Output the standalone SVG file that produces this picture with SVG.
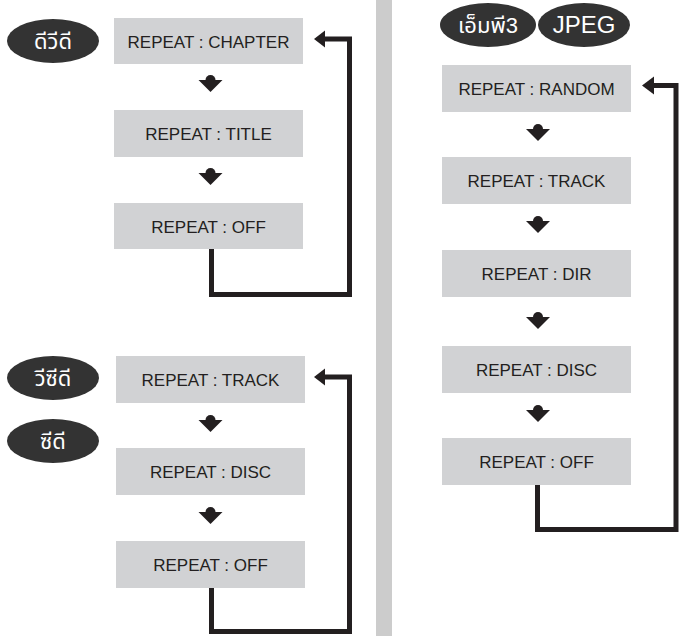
<svg xmlns="http://www.w3.org/2000/svg" xmlns:xlink="http://www.w3.org/1999/xlink" width="681" height="636" viewBox="0 0 681 636">
<defs>
<style>
.box{fill:#d1d2d4;}
.lbl{font-family:"Liberation Sans",Arial,sans-serif;font-size:17px;fill:#231f20;text-anchor:middle;}
.tag{fill:#333333;}
.tagt{font-family:"Liberation Sans","Noto Sans Thai","Noto Sans",sans-serif;font-size:22px;fill:#ffffff;text-anchor:middle;}
.loop{fill:none;stroke:#231f20;stroke-width:5;stroke-linejoin:miter;}
.head{fill:#231f20;}
</style>
<g id="down">
<circle cx="0" cy="0" r="5" fill="#231f20"/>
<path d="M-12,0 L12,0 L0,12 Z" fill="#231f20"/>
</g>
</defs>
<rect id="divider" x="376" y="0" width="16" height="636" fill="#cccccc"/>

<g id="tag-dvd"><ellipse class="tag" cx="53" cy="41" rx="46" ry="22"/><text class="tagt" x="53" y="49">ดีวีดี</text></g>
<g id="tag-vcd"><ellipse class="tag" cx="53" cy="378" rx="46" ry="22"/><text class="tagt" x="53" y="386">วีซีดี</text></g>
<g id="tag-cd"><ellipse class="tag" cx="53" cy="441" rx="46" ry="22"/><text class="tagt" x="53" y="449">ซีดี</text></g>
<g id="tag-mp3"><ellipse class="tag" cx="488" cy="25" rx="48" ry="22"/><text class="tagt" x="488" y="33">เอ็มพี3</text></g>
<g id="tag-jpeg"><ellipse class="tag" cx="584" cy="25" rx="46" ry="22"/><text class="tagt" x="584" y="33" style="font-size:24px">JPEG</text></g>

<g id="dvd-chapter"><rect class="box" x="114" y="18" width="189" height="46"/><text class="lbl" x="208.5" y="47.5">REPEAT : CHAPTER</text></g>
<g id="dvd-title"><rect class="box" x="114" y="110" width="189" height="47"/><text class="lbl" x="208.5" y="140">REPEAT : TITLE</text></g>
<g id="dvd-off"><rect class="box" x="114" y="203" width="189" height="46"/><text class="lbl" x="208.5" y="232.5">REPEAT : OFF</text></g>

<g id="cd-track"><rect class="box" x="116" y="356" width="189" height="47"/><text class="lbl" x="210.5" y="386">REPEAT : TRACK</text></g>
<g id="cd-disc"><rect class="box" x="116" y="448" width="189" height="47"/><text class="lbl" x="210.5" y="478">REPEAT : DISC</text></g>
<g id="cd-off"><rect class="box" x="116" y="541" width="189" height="47"/><text class="lbl" x="210.5" y="571">REPEAT : OFF</text></g>

<g id="mp3-random"><rect class="box" x="442" y="65" width="189" height="47"/><text class="lbl" x="536.5" y="95">REPEAT : RANDOM</text></g>
<g id="mp3-track"><rect class="box" x="442" y="157" width="189" height="47"/><text class="lbl" x="536.5" y="187">REPEAT : TRACK</text></g>
<g id="mp3-dir"><rect class="box" x="442" y="250" width="189" height="47"/><text class="lbl" x="536.5" y="280">REPEAT : DIR</text></g>
<g id="mp3-disc"><rect class="box" x="442" y="346" width="189" height="47"/><text class="lbl" x="536.5" y="376">REPEAT : DISC</text></g>
<g id="mp3-off"><rect class="box" x="442" y="438" width="189" height="47"/><text class="lbl" x="536.5" y="468">REPEAT : OFF</text></g>

<g id="connectors">
<use xlink:href="#down" x="210.5" y="80"/>
<use xlink:href="#down" x="210.5" y="173"/>
<use xlink:href="#down" x="210.5" y="420"/>
<use xlink:href="#down" x="210.5" y="512"/>
<use xlink:href="#down" x="538" y="129"/>
<use xlink:href="#down" x="538" y="221"/>
<use xlink:href="#down" x="538" y="317"/>
<use xlink:href="#down" x="538" y="410"/>
<path class="loop" d="M211.5,249 V294.5 H349.5 V39 H322"/>
<polygon class="head" points="314,39 325,30.5 325,47.5"/>
<path class="loop" d="M211.5,588 V631.5 H349.5 V377 H322"/>
<polygon class="head" points="314,377 325,368.5 325,385.5"/>
<path class="loop" d="M537.5,485 V529.5 H676 V85.5 H651"/>
<polygon class="head" points="642,85.5 654,76.5 654,94.5"/>
</g>
</svg>
